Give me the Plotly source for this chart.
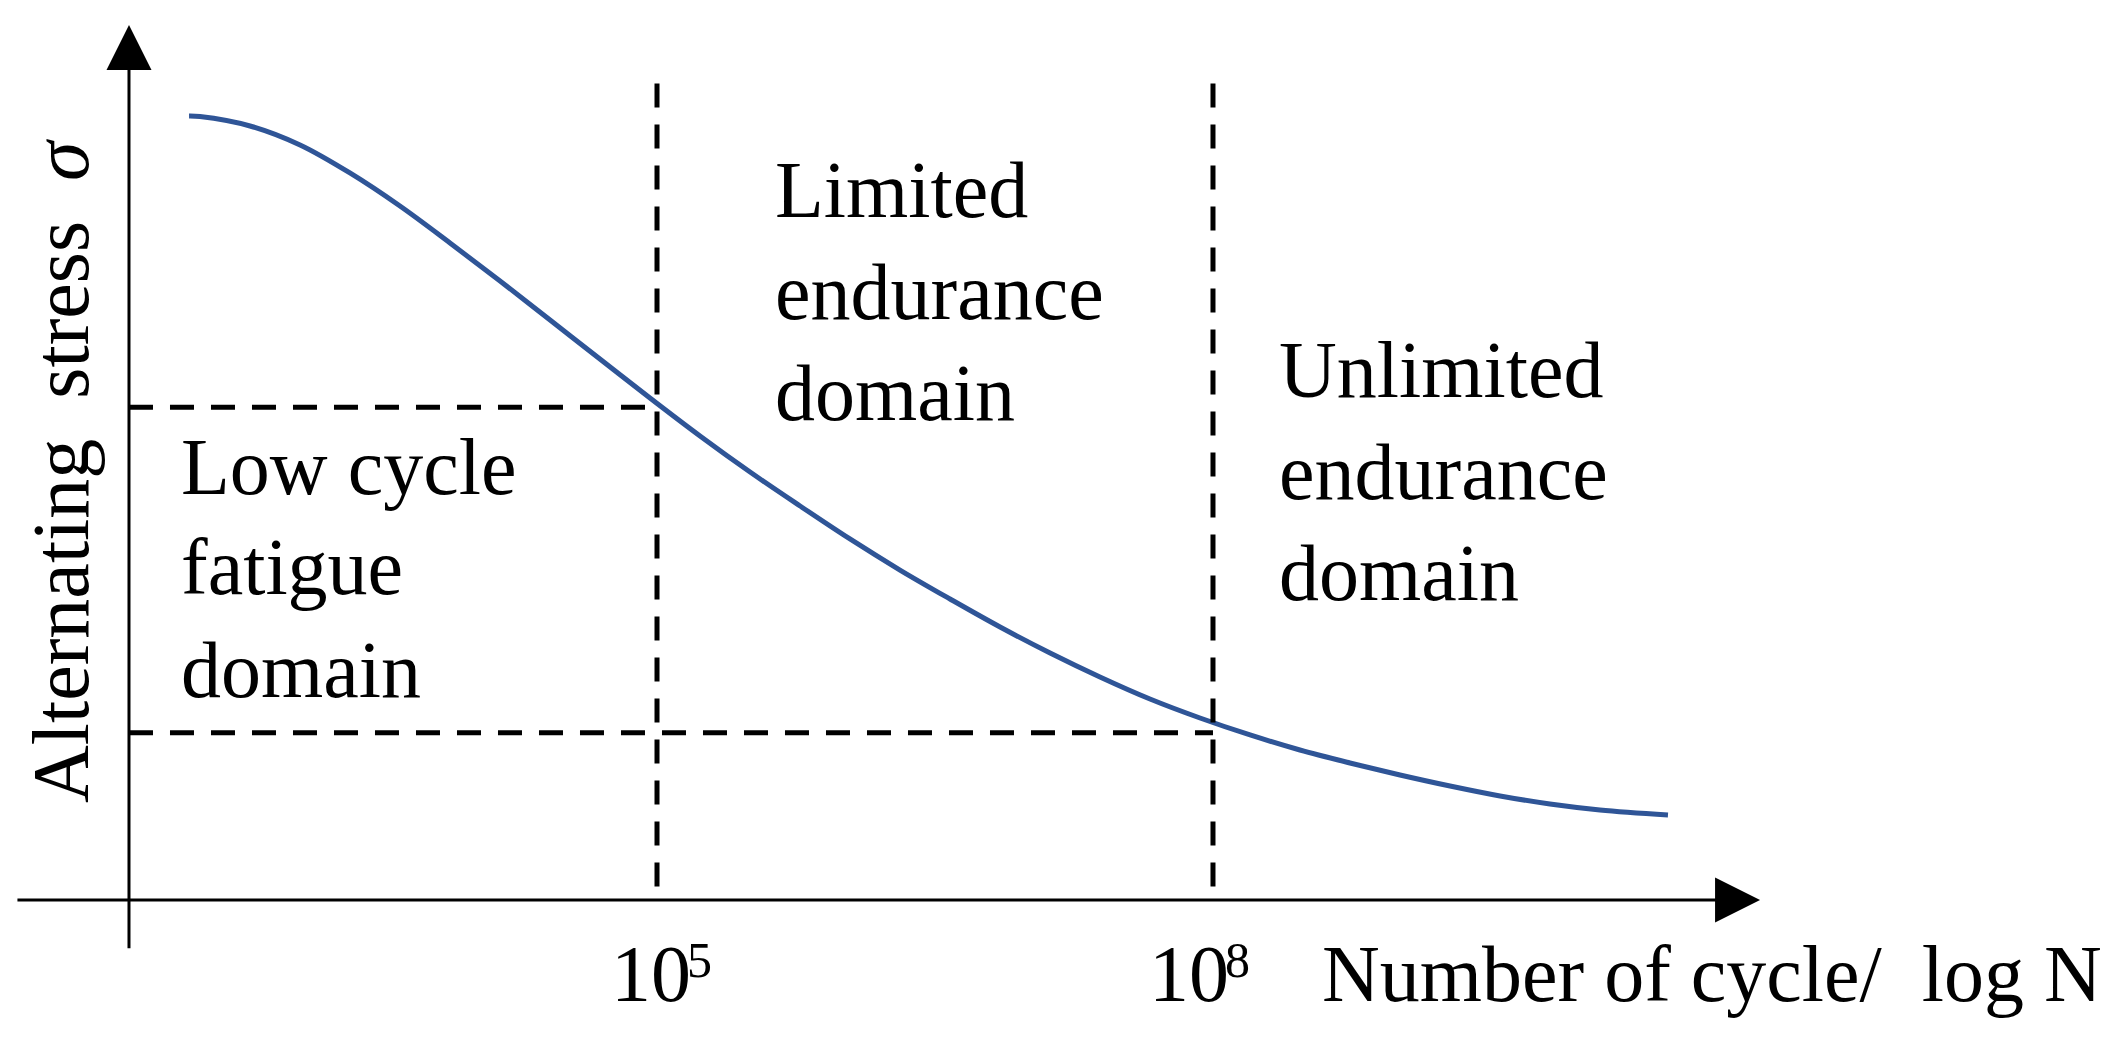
import plotly.graph_objects as go

# S-N (Woehler) curve: x = log10(N), y = stress (arbitrary units)
log_n = [2.475, 2.534, 2.804, 3.074, 3.343, 3.613, 3.883, 4.153, 4.423, 4.692,
         4.962, 5.232, 5.502, 5.772, 6.041, 6.311, 6.581, 6.851, 7.121, 7.390,
         7.660, 7.930, 8.200, 8.469, 8.739, 9.009, 9.279, 9.549, 9.818, 10.088, 10.455]
stress = [89.60, 89.54, 88.46, 86.29, 83.09, 79.31, 75.09, 70.74, 66.29, 61.83,
          57.37, 53.03, 48.91, 45.03, 41.26, 37.71, 34.40, 31.20, 28.23, 25.49,
          22.97, 20.80, 18.86, 17.14, 15.66, 14.29, 13.03, 11.89, 10.97, 10.29, 9.71]

# domain boundaries
boundary_log_n = [5, 8]
boundary_base = ["10", "10"]
boundary_exp = ["5", "8"]
boundary_stress = [56.3, 19.1]
boundary_top = 93.3

# axes (drawn by hand, arrow style)
y_axis_at = 2.151
x_axis_from, x_axis_to = 1.541, 10.952
y_axis_from, y_axis_to = -5.7, 100

domain_labels = [
    ["Low cycle", "fatigue", "domain"],
    ["Limited", "endurance", "domain"],
    ["Unlimited", "endurance", "domain"],
]

OFF = 8                       # page body margin
W, H = 2128 - OFF, 1040 - OFF
PX_PER_DECADE, PX_PER_UNIT = 185.33, 8.75
FONT = "Liberation Serif, Times New Roman, serif"
BLUE = "#2f5597"

fig = go.Figure()

fig.add_trace(go.Scatter(
    x=log_n, y=stress, mode="lines",
    line=dict(color=BLUE, width=5, shape="spline", smoothing=1),
    showlegend=False, hoverinfo="skip"
))

# dashed guides; dash pattern starts at the top / at the y axis
dash = dict(color="black", width=5, dash="24px,17px")
for xb in boundary_log_n:
    fig.add_shape(type="line", x0=xb, x1=xb, y0=boundary_top, y1=0, line=dash)
for xb, sb in zip(boundary_log_n, boundary_stress):
    fig.add_shape(type="line", x0=y_axis_at, x1=xb, y0=sb, y1=sb, line=dash)

# axes with arrow heads
arrow = dict(xref="x", yref="y", axref="x", ayref="y", text="", showarrow=True,
             arrowhead=2, arrowwidth=3, arrowsize=3, arrowcolor="black")
fig.add_annotation(x=x_axis_to, y=0, ax=x_axis_from, ay=0, **arrow)
fig.add_annotation(x=y_axis_at, y=y_axis_to, ax=y_axis_at, ay=y_axis_from, **arrow)


def paper(px, py):
    return (px - OFF) / W, 1 - (py - OFF) / H


def text(s, px, py, xanchor="left", size=80, **kw):
    x, y = paper(px, py)
    fig.add_annotation(x=x, y=y, xref="paper", yref="paper", text=s, showarrow=False,
                       xanchor=xanchor, yanchor="middle",
                       font=dict(family=FONT, size=size, color="black"), **kw)


# domain texts, one line at a time (left edge, baseline)
starts = [(182, [497, 597, 700]), (776, [220, 322, 423]), (1280, [400, 502, 603])]
for lines, (px, baselines) in zip(domain_labels, starts):
    for s, b in zip(lines, baselines):
        text(s, px - 3, b - 30)

# tick labels on x: "10" with a small raised exponent
for xb, base, exp, shift in zip(boundary_log_n, boundary_base, boundary_exp, [-6, -24]):
    _, y = paper(0, 974)
    _, ys = paper(0, 960)
    fig.add_annotation(x=xb, y=y, xref="x", yref="paper", text=base, showarrow=False,
                       xanchor="center", yanchor="middle", xshift=shift,
                       font=dict(family=FONT, size=80, color="black"))
    fig.add_annotation(x=xb, y=ys, xref="x", yref="paper", text=exp, showarrow=False,
                       xanchor="left", yanchor="middle", xshift=shift + 34,
                       font=dict(family=FONT, size=50, color="black"))

text("Number of cycle/\u00a0 log N", 1320, 974)
text("Alternating\u00a0 stress\u00a0 <i>σ</i>", 61, 471, xanchor="center", textangle=-90)

fig.update_layout(
    width=W, height=H,
    margin=dict(l=0, r=0, t=0, b=0),
    paper_bgcolor="white", plot_bgcolor="white",
    xaxis=dict(visible=False, range=[5 + (OFF - 657) / PX_PER_DECADE,
                                     5 + (OFF + W - 657) / PX_PER_DECADE]),
    yaxis=dict(visible=False, range=[(900 - OFF - H) / PX_PER_UNIT,
                                     (900 - OFF) / PX_PER_UNIT]),
)

fig.write_html("out.html")
